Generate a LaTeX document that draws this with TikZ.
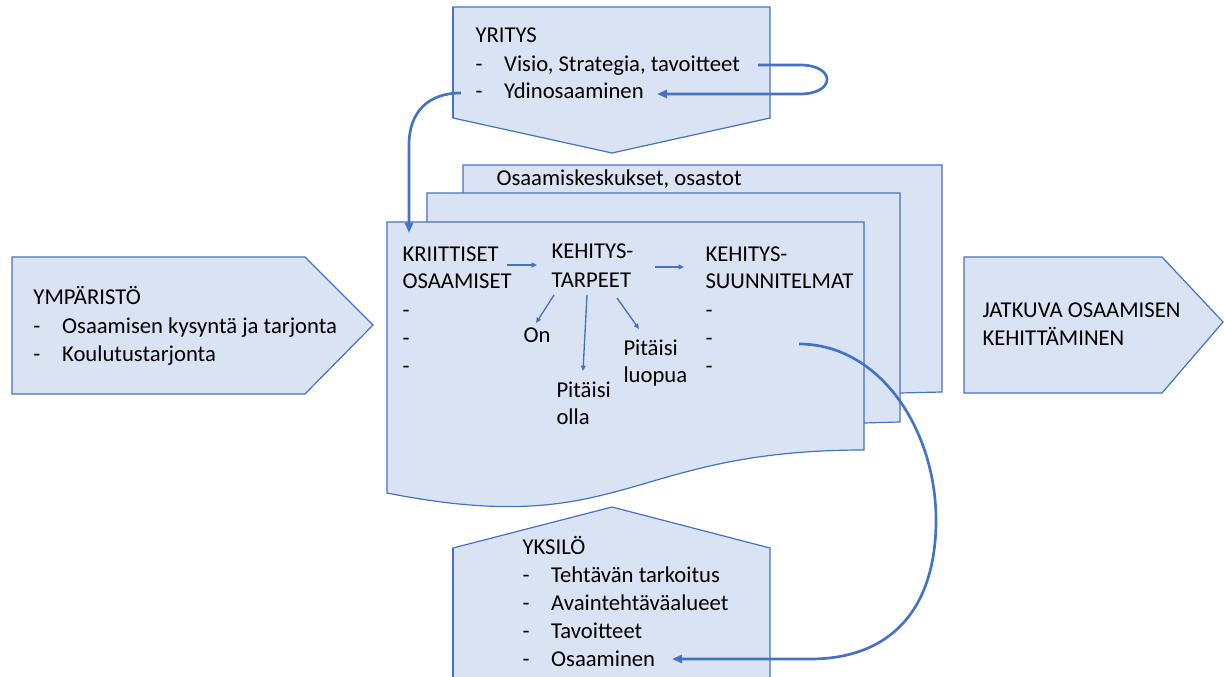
\documentclass[tikz,border=0pt]{standalone}
\usepackage{fontspec}
\setmainfont{Carlito}
\usetikzlibrary{arrows.meta}

\definecolor{boxfill}{HTML}{DAE3F3}
\definecolor{boxline}{HTML}{4472C4}
\newcommand{\dashitem}[1]{\makebox[21.5pt][l]{-}#1}

\tikzset{every picture/.style={line width=0.75pt}}
\tikzset{
  bluebox/.style={draw=boxline, fill=boxfill, line width=0.9pt},
  txt/.style={anchor=base west, inner sep=0pt, font=\fontsize{17}{21}\selectfont},
  bigarrow/.style={draw=boxline, line width=2pt, -{Triangle[length=7.5pt,width=6pt]}},
  smallarrow/.style={draw=boxline, line width=1pt, -{Triangle[length=4pt,width=3.5pt]}}
}

\begin{document}
\begin{tikzpicture}[x=0.75pt,y=0.75pt,yscale=-1,xscale=1]
	\clip (0,0) rectangle (1224,677);

	%Shape: Pentagon [id:ymparisto]
	\draw [bluebox] (12,257) -- (305,257) -- (373,325) -- (305,394) -- (12,394) -- cycle ;
	%Shape: Pentagon [id:jatkuva]
	\draw [bluebox] (964,257) -- (1162,257) -- (1223,322) -- (1162,393) -- (964,393) -- cycle ;
	%Shape: Pentagon [id:yritys]
	\draw [bluebox] (453,7) -- (770,7) -- (770,118) -- (612,153) -- (453,118) -- cycle ;
	\draw [boxline, line width=2pt] (453,7) -- (453,118) ;
	%Shape: Pentagon [id:yksilo]
	\draw [bluebox] (453,548) -- (612,507) -- (770,548) -- (770,690) -- (453,690) -- cycle ;
	\draw [boxline, line width=2pt] (453,548) -- (453,690) ;

	%Shape: Multidocument [id:sheets]
	\draw [bluebox] (463,165) -- (942,165) -- (942,392) -- (900,393) -- (463,400) -- cycle ;
	\draw [bluebox] (427,193) -- (900,193) -- (900,422) -- (864,423) -- (427,430) -- cycle ;
	\draw [bluebox] (387,222) -- (864,222) -- (864,450) .. controls (625,450) and (625,540) .. (387,493) -- cycle ;

	% Text Node
	\node [txt] (yritys) at (475,43) {YRITYS};
	\node [txt] (visio) at (475,72) {\dashitem{Visio, Strategia, tavoitteet}};
	\node [txt] (ydin) at (475,99) {\dashitem{Ydinosaaminen}};
	% Text Node
	\node [txt] (ymparisto) at (33,305) {YMPÄRISTÖ};
	\node [txt] (kysynta) at (33,333) {\dashitem{Osaamisen kysyntä ja tarjonta}};
	\node [txt] (koulutus) at (33,361) {\dashitem{Koulutustarjonta}};
	% Text Node
	\node [txt] (jatkuva) at (982,317) {JATKUVA OSAAMISEN};
	\node [txt] (kehittaminen) at (982,345) {KEHITTÄMINEN};
	% Text Node
	\node [txt] (keskukset) at (496,186) {Osaamiskeskukset, osastot};
	\node [txt] (kriittiset) at (402,262) {KRIITTISET};
	\node [txt] (osaamiset) at (402,289) {OSAAMISET};
	\node [txt] (kdash1) at (402,317) {-};
	\node [txt] (kdash2) at (402,345) {-};
	\node [txt] (kdash3) at (402,373) {-};
	\node [txt] (tarve1) at (551,259) {KEHITYS-};
	\node [txt] (tarve2) at (551,287) {TARPEET};
	\node [txt] (suunn1) at (705,262) {KEHITYS-};
	\node [txt] (suunn2) at (705,289) {SUUNNITELMAT};
	\node [txt] (sdash1) at (705,317) {-};
	\node [txt] (sdash2) at (705,345) {-};
	\node [txt] (sdash3) at (705,373) {-};
	\node [txt] (on) at (523,342) {On};
	\node [txt] (olla1) at (556,397) {Pitäisi};
	\node [txt] (olla2) at (556,424) {olla};
	\node [txt] (luopua1) at (623,355) {Pitäisi};
	\node [txt] (luopua2) at (623,382) {luopua};
	% Text Node
	\node [txt] (yksilo) at (522,554) {YKSILÖ};
	\node [txt] (tehtava) at (522,582) {\dashitem{Tehtävän tarkoitus}};
	\node [txt] (avain) at (522,610) {\dashitem{Avaintehtäväalueet}};
	\node [txt] (tavoitteet) at (522,638) {\dashitem{Tavoitteet}};
	\node [txt] (osaaminen) at (522,666) {\dashitem{Osaaminen}};

	% arrow ends
	\coordinate (visioend) at (758,65);
	\coordinate (ydinend) at (657,94);
	\coordinate (ydinstart) at (461,93);
	\coordinate (sheettop) at (409,233);
	\coordinate (suunnend) at (799,344);
	\coordinate (osaamend) at (672,659);
	\coordinate (kriitout) at (507,265);
	\coordinate (tarvein) at (537,265);
	\coordinate (tarveout) at (655,267);
	\coordinate (suunnin) at (684,267);
	\coordinate (onout) at (554,295);
	\coordinate (onin) at (536,323);
	\coordinate (ollaout) at (587,295);
	\coordinate (ollain) at (583,371);
	\coordinate (luopuaout) at (617,298);
	\coordinate (luopuain) at (639,329);

	%Curve Lines
	\draw [bigarrow] (visioend) -- (800,65) .. controls (836,65) and (836,94) .. (800,94) -- (ydinend) ;
	\draw [bigarrow] (ydinstart) .. controls (428,93) and (409,112) .. (409,145) -- (sheettop) ;
	\draw [bigarrow] (suunnend) .. controls (880,344) and (936,430) .. (936,520) .. controls (936,610) and (890,659) .. (810,659) -- (osaamend) ;
	%Straight Lines
	\draw [smallarrow] (kriitout) -- (tarvein) ;
	\draw [smallarrow] (tarveout) -- (suunnin) ;
	\draw [smallarrow] (onout) -- (onin) ;
	\draw [smallarrow] (ollaout) -- (ollain) ;
	\draw [smallarrow] (luopuaout) -- (luopuain) ;

\end{tikzpicture}
\end{document}
